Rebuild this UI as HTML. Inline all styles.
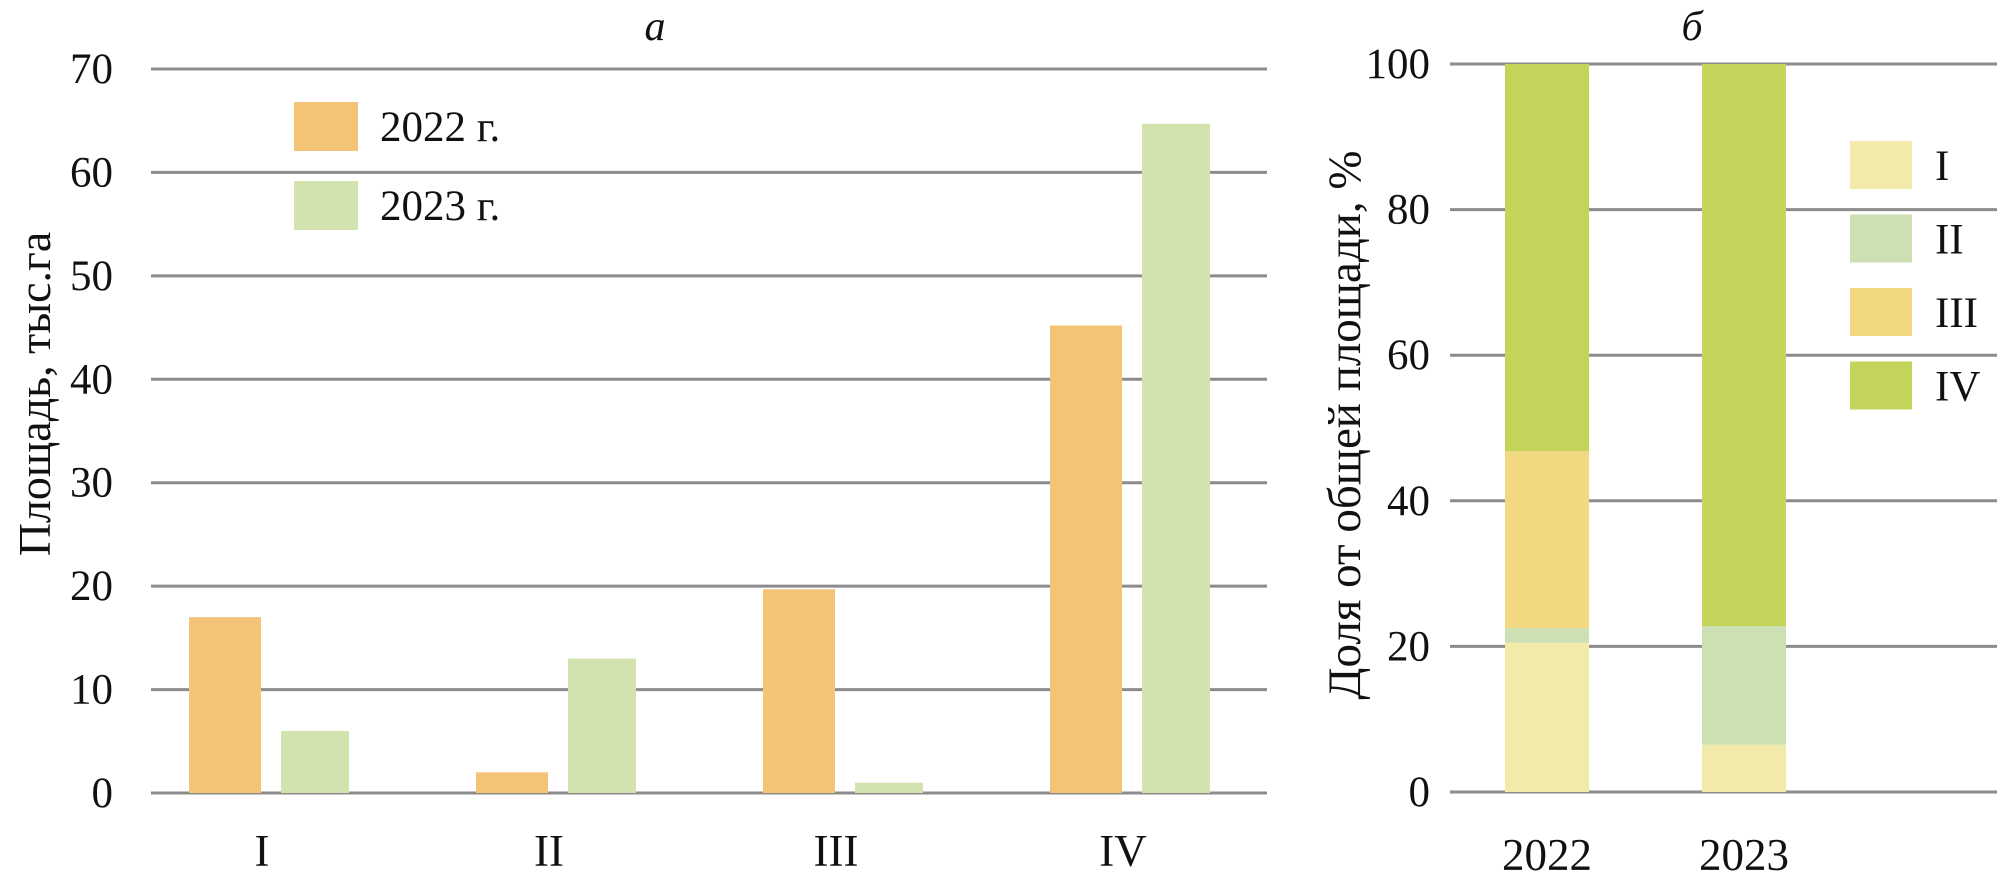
<!DOCTYPE html>
<html><head><meta charset="utf-8">
<style>
html,body{margin:0;padding:0;background:#fff;}
svg{display:block;}
text{font-family:"Liberation Serif",serif;fill:#111;}
</style></head>
<body>
<svg id="chart" width="2007" height="882" viewBox="0 0 2007 882" xmlns="http://www.w3.org/2000/svg">
<g id="left"></g>
<g id="right"></g>
</svg>
<script>
const catsA = ["I","II","III","IV"];
const vals2022 = [17, 2, 19.7, 45.2];
const vals2023 = [6, 13, 1, 64.7];
const ticksA = [0,10,20,30,40,50,60,70];

const catsB = ["2022","2023"];
const shareI = [20.5, 6.5];
const shareII = [2, 16.3];
const shareIII = [24.3, 0];
const shareIV = [53.2, 77.2];
const ticksB = [0,20,40,60,80,100];

const NS = "http://www.w3.org/2000/svg";
function mk(tag, attrs, parent, txt){
  const e = document.createElementNS(NS, tag);
  for (const k in attrs) e.setAttribute(k, attrs[k]);
  if (txt !== undefined) e.textContent = txt;
  parent.appendChild(e);
  return e;
}
const L = document.getElementById("left");
const R = document.getElementById("right");

// ---- chart a ----
const yA = v => 793 - v * (793 - 69) / 70;
const xA = i => 262 + i * 287;
ticksA.forEach(t => {
  const g = mk("line", {x1:151, x2:1267, y1:yA(t), y2:yA(t), stroke:"#8c8c8c", "stroke-width":3}, L);
  
  
  const tl = mk("text", {x:113, y:yA(t)+14, "text-anchor":"end", "font-size":43}, L, String(t));
  
  
});
catsA.forEach((c, i) => {
  const b1 = mk("rect", {x:xA(i)-73, y:yA(vals2022[i]), width:72, height:yA(0)-yA(vals2022[i]), fill:"#f3c478"}, L);
  
  
  const b2 = mk("rect", {x:xA(i)+19, y:yA(vals2023[i]), width:68, height:yA(0)-yA(vals2023[i]), fill:"#d3e3b0"}, L);
  
  
  const xl = mk("text", {x:xA(i), y:866, "text-anchor":"middle", "font-size":45}, L, c);
  
  
});
{
  const t = mk("text", {x:655, y:40, "text-anchor":"middle", "font-size":42, "font-style":"italic"}, L, "a");
  
  
  const yt = mk("text", {x:0, y:0, "text-anchor":"middle", "font-size":46, transform:"translate(50,394) rotate(-90)"}, L, "Площадь, тыс.га");
  
  
  const s1 = mk("rect", {x:294, y:102, width:64, height:49, fill:"#f3c478"}, L);
  
  
  const l1 = mk("text", {x:380, y:141, "font-size":43}, L, "2022 г.");
  
  
  const s2 = mk("rect", {x:294, y:181, width:64, height:49, fill:"#d3e3b0"}, L);
  
  
  const l2 = mk("text", {x:380, y:220, "font-size":43}, L, "2023 г.");
  
  
}

// ---- chart b ----
const yB = v => 792 - v * (792 - 64) / 100;
const xB = i => 1547 + i * 197;
ticksB.forEach(t => {
  const g = mk("line", {x1:1450, x2:1997, y1:yB(t), y2:yB(t), stroke:"#8c8c8c", "stroke-width":3}, R);
  
  
  const tl = mk("text", {x:1430, y:yB(t)+14, "text-anchor":"end", "font-size":43}, R, String(t));
  
  
});
const series = [["I", shareI, "#f2eaa8"], ["II", shareII, "#cde0b3"], ["III", shareIII, "#f3d882"], ["IV", shareIV, "#c4d45a"]];
catsB.forEach((c, i) => {
  let base = 0;
  series.forEach(s => {
    const v = s[1][i];
    const r = mk("rect", {x:xB(i)-42, y:yB(base+v), width:84, height:yB(base)-yB(base+v), fill:s[2]}, R);
    
    
    base += v;
  });
  const xl = mk("text", {x:xB(i), y:870, "text-anchor":"middle", "font-size":45}, R, c);
  
  
});
series.forEach((s, k) => {
  const y0 = 141 + k * 73.5;
  const sw = mk("rect", {x:1850, y:y0, width:62, height:48, fill:s[2]}, R);
  
  
  const lt = mk("text", {x:1935, y:y0+39, "font-size":43}, R, s[0]);
  
  
});
{
  const t = mk("text", {x:1692, y:40, "text-anchor":"middle", "font-size":42, "font-style":"italic"}, R, "б");
  
  
  const yt = mk("text", {x:0, y:0, "text-anchor":"middle", "font-size":47, transform:"translate(1360,425) rotate(-90)"}, R, "Доля от общей площади, %");
  
  
}
</script>
</body></html>
